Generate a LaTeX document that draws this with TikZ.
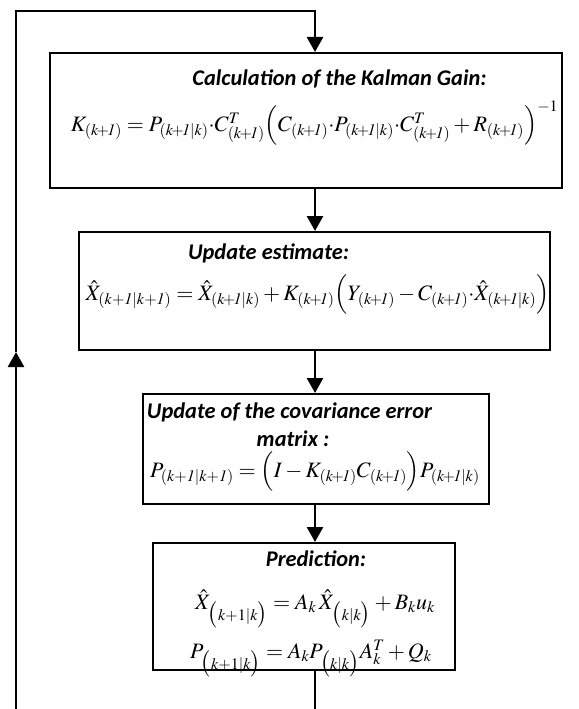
\documentclass[tikz,border=0pt]{standalone}
\usepackage{mathptmx}
\usepackage{fontspec}
\setmainfont{Liberation Serif}
\newfontfamily\ttlfont{Carlito}
\DeclareMathSizes{22}{22}{16}{12}
\usetikzlibrary{arrows.meta}
\newcommand{\kp}{(k\!+\!\mathit{1})}
\newcommand{\kpk}{(k\!+\!\mathit{1}|k)}
\tikzset{
  box/.style={draw, line width=2pt, minimum width=#1, inner sep=0pt},
  ttl/.style={font=\ttlfont\bfseries\itshape\fontsize{22.4}{26}\selectfont, inner sep=0pt, anchor=base},
  eq/.style={font=\fontsize{22}{26}\selectfont, inner sep=0pt, anchor=base},
  conn/.style={line width=2.6pt, -{Triangle[width=16pt,length=15pt]}},
  line/.style={line width=2.6pt}
}
\begin{document}
\begin{tikzpicture}[x=1pt,y=-1pt]
\useasboundingbox (0,0) rectangle (578,709);
% boxes
\node[box=512pt, minimum height=135pt] (b1) at (306,120.5) {};
\node[box=471pt, minimum height=118pt] (b2) at (314.5,291) {};
\node[box=346pt, minimum height=110pt] (b3) at (316,449) {};
\node[box=302pt, minimum height=127pt] (b4) at (304,606.5) {};
% texts
\node[ttl] (t1) at (339.5,85) {Calculation of the Kalman Gain:};
\node[eq] (e1) at (314.5,131) {$K_{\kp} = P_{\kpk}{\cdot}C^{T}_{\kp}\Bigl(C_{\kp}{\cdot}P_{\kpk}{\cdot}C^{T}_{\kp} + R_{\kp}\Bigr)^{-1}$};
\node[ttl] (t2) at (268.5,259) {Update estimate:};
\node[eq] (e2) at (317.5,300) {$\hat{X}_{(k+\mathit{1}|k+\mathit{1})} = \hat{X}_{\kpk} + K_{\kp}\Bigl(Y_{\kp} - C_{\kp}{\cdot}\hat{X}_{\kpk}\Bigr)$};
\node[ttl] (t3a) at (289.5,418) {Update of the covariance error};
\node[ttl] (t3b) at (293,446) {matrix :};
\node[eq] (e3) at (315,477) {$P_{(k+\mathit{1}|k+\mathit{1})} = \Bigl(I - K_{\kp}C_{\kp}\Bigr)P_{\kpk}$};
\node[ttl] (t4) at (316,566) {Prediction:};
\node[eq] (e4a) at (315,609) {$\hat{X}_{\big(k+1|k\big)} = A_k\,\hat{X}_{\big(k|k\big)} + B_k u_k$};
\node[eq] (e4b) at (311,658) {$P_{\big(k+1|k\big)} = A_k P_{\big(k|k\big)}A_k^{T} + Q_k$};
% connectors
\draw[conn] (b1.south -| 315,0) -- (b2.north -| 315,0);
\draw[conn] (b2.south -| 315,0) -- (b3.north -| 315,0);
\draw[conn] (b3.south -| 315,0) -- (b4.north -| 315,0);
\coordinate (bot) at (315,709);
\coordinate (lbot) at (16,709);
\coordinate (mid) at (16,352);
\coordinate (ltop) at (16,11);
\coordinate (rtop) at (315,11);
\draw[line] (b4.south -| 315,0) -- (bot);
\draw[conn] (lbot) -- (mid);
\draw[conn] (mid) -- (ltop) -- (rtop) -- (b1.north -| 315,0);
\end{tikzpicture}
\end{document}
